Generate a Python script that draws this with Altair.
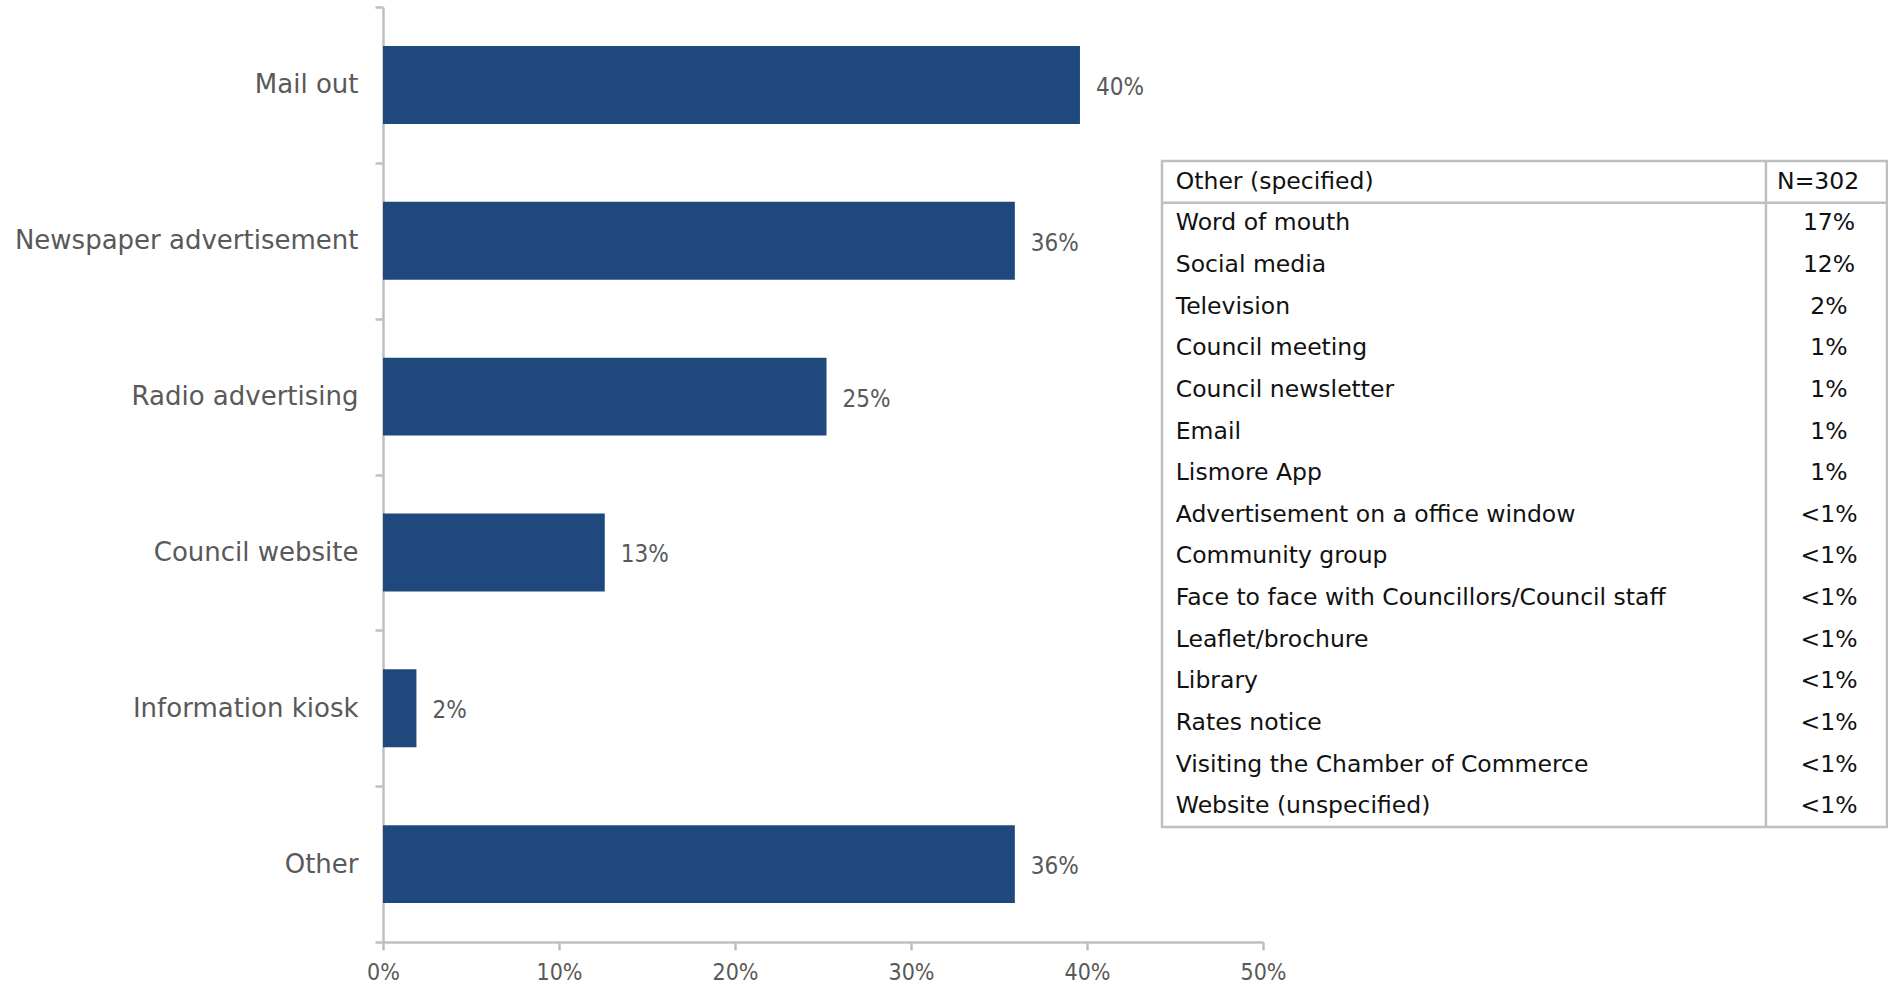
import altair as alt
import pandas as pd

# ---- data ----
categories = ["Mail out", "Newspaper advertisement", "Radio advertising",
              "Council website", "Information kiosk", "Other"]
shares = [0.396, 0.359, 0.252, 0.126, 0.019, 0.359]

table_header = ["Other (specified)", "N=302"]
other_items = ["Word of mouth", "Social media", "Television", "Council meeting",
               "Council newsletter", "Email", "Lismore App",
               "Advertisement on a office window", "Community group",
               "Face to face with Councillors/Council staff", "Leaflet/brochure",
               "Library", "Rates notice", "Visiting the Chamber of Commerce",
               "Website (unspecified)"]
other_values = ["17%", "12%", "2%", "1%", "1%", "1%", "1%",
                "<1%", "<1%", "<1%", "<1%", "<1%", "<1%", "<1%", "<1%"]
x_ticks = [0, 0.1, 0.2, 0.3, 0.4, 0.5]

BAR = "#1F497D"
GREY_TXT = "#595959"
LINE = "#BFBFBF"
WIDE = "DejaVu Sans"
COND = "DejaVu Sans Condensed"

bars_df = pd.DataFrame({"category": categories, "share": shares})
n_rows = len(other_items) + 1
table_df = pd.DataFrame({
    "item": other_items,
    "value": other_values,
    "pos": [i + 1.5 for i in range(len(other_items))],
})
header_df = pd.DataFrame({"item": [table_header[0]], "value": [table_header[1]], "pos": [0.5]})
one = pd.DataFrame({"k": [0]})

# ---- bar chart ----
xs = alt.Scale(domain=[0, 0.5], range=[0, 880], nice=False)
ys = alt.Scale(domain=categories, paddingInner=0, paddingOuter=0)

x_enc = alt.X("share:Q", scale=xs, axis=alt.Axis(
    title=None, values=x_ticks, format=".0%", grid=False, labelFlush=False,
    labelFont=COND, labelFontSize=23, labelColor=GREY_TXT, labelPadding=11,
    tickSize=8, tickColor=LINE, tickWidth=2.5, domainColor=LINE, domainWidth=2.5))
y_enc = alt.Y("category:N", sort=categories, scale=ys, axis=alt.Axis(
    title=None, labelFont=WIDE, labelFontSize=26, labelColor=GREY_TXT,
    labelPadding=17, tickSize=8, tickColor=LINE, tickWidth=2.5,
    tickBand="extent",
    domainColor=LINE, domainWidth=2.5, labelLimit=600))

bars = alt.Chart(bars_df).mark_bar(color=BAR, height={"band": 0.5}).encode(x=x_enc, y=y_enc)
bar_labels = alt.Chart(bars_df).mark_text(
    align="left", baseline="middle", dx=16, dy=3, font=COND, fontSize=24, color=GREY_TXT
).encode(x=alt.X("share:Q", scale=xs), y=alt.Y("category:N", sort=categories, scale=ys),
         text=alt.Text("share:Q", format=".0%"))
bar_layer = alt.layer(bars, bar_labels)

# ---- table (own scales) ----
tx = alt.Scale(domain=[0, 1], range=[779, 1504], nice=False, zero=False)
ty = alt.Scale(domain=[0, n_rows], range=[154, 820], nice=False, zero=False)

box = alt.Chart(one).mark_rect(filled=False, stroke=LINE, strokeWidth=2.5).encode(
    x=alt.X(datum=0, scale=tx, axis=None), x2=alt.X2(datum=1),
    y=alt.Y(datum=0, scale=ty, axis=None), y2=alt.Y2(datum=n_rows))
header_rule = alt.Chart(one).mark_rule(color=LINE, strokeWidth=2.5).encode(
    x=alt.X(datum=0, scale=tx, axis=None), x2=alt.X2(datum=1),
    y=alt.Y(datum=1, scale=ty, axis=None))
divider = alt.Chart(one).mark_rule(color=LINE, strokeWidth=2.5).encode(
    x=alt.X(datum=0.833, scale=tx, axis=None),
    y=alt.Y(datum=0, scale=ty, axis=None), y2=alt.Y2(datum=n_rows))

txt_kw = dict(baseline="middle", font=WIDE, fontSize=23.5, color="#111111")
items_txt = alt.Chart(pd.concat([header_df, table_df])).mark_text(align="left", **txt_kw).encode(
    x=alt.X(datum=0.019, scale=tx, axis=None),
    y=alt.Y("pos:Q", scale=ty, axis=None), text="item:N")
vals_txt = alt.Chart(table_df).mark_text(align="center", **txt_kw).encode(
    x=alt.X(datum=0.92, scale=tx, axis=None),
    y=alt.Y("pos:Q", scale=ty, axis=None), text="value:N")
head_val = alt.Chart(header_df).mark_text(align="center", **txt_kw).encode(
    x=alt.X(datum=0.905, scale=tx, axis=None),
    y=alt.Y("pos:Q", scale=ty, axis=None), text="value:N")

table_layer = alt.layer(box, header_rule, divider, items_txt, vals_txt, head_val)

chart = alt.layer(bar_layer, table_layer).resolve_scale(
    x="independent", y="independent"
).properties(
    width=1505, height=935,
    autosize=alt.AutoSizeParams(type="none"),
    padding={"left": 383, "top": 7, "right": 0, "bottom": 46},
    background="white",
).configure_view(stroke=None)

chart.save("out.html", embed_options={"renderer": "svg", "actions": False})
